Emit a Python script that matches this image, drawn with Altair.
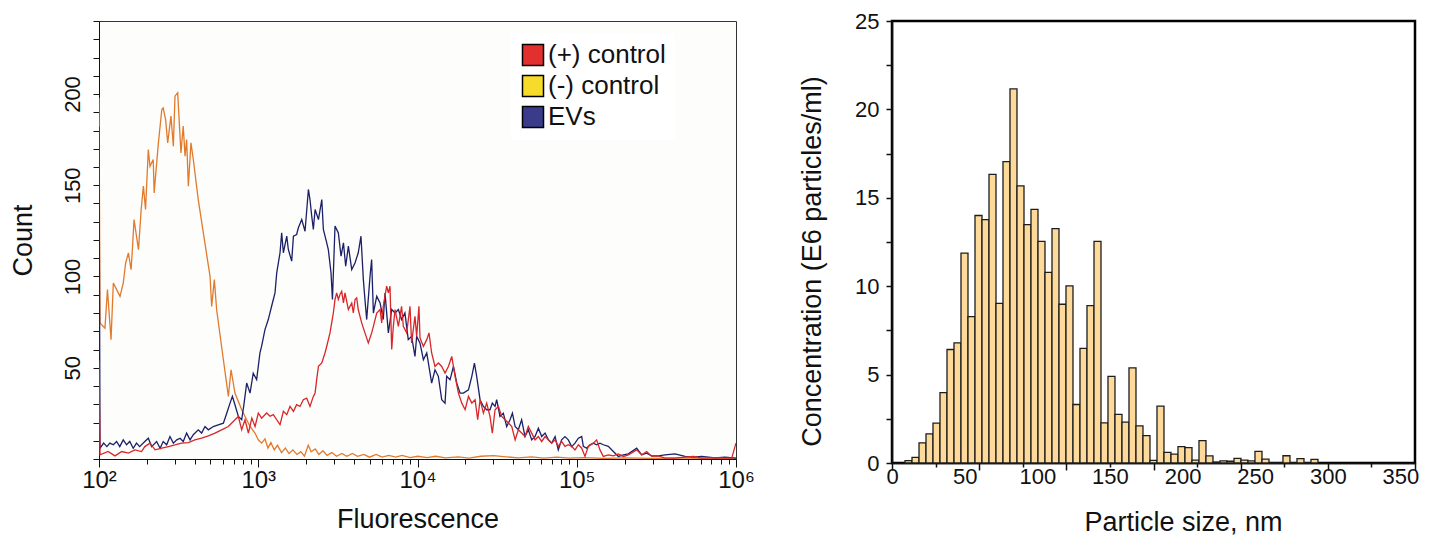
import altair as alt
import pandas as pd

FONT = "Liberation Sans"

# ---------------- Left panel: flow cytometry histograms ----------------
NEG_F = [100, 101.5, 109, 113, 119, 123, 129, 135.5, 142, 147, 153, 159, 162, 166, 177, 184, 190, 196,
         204, 209, 219, 222, 236, 248, 253, 262, 270, 283, 293, 300, 312, 327, 338, 347, 355, 364, 378,
         391, 420, 452, 498, 510, 530, 548, 604, 649, 675, 714, 787, 888, 954, 1000, 1050, 1102, 1150,
         1200, 1260, 1320, 1400, 1480, 1560, 1650, 1750, 1850, 1950, 2060, 2150, 2280, 2400, 2550, 2700,
         2900, 3100, 3350, 3600, 3900, 4200, 4600, 5000, 5500, 6000, 6600, 7300, 8000, 9000, 10000,
         11500, 13000, 15000, 18000, 21000, 25000, 30000, 36000, 43000, 52000, 62000, 75000, 90000,
         110000, 150000, 200000, 300000, 450000, 650000, 1000000]
NEG_C = [198, 74.5, 71.7, 92.8, 65.3, 96.4, 92.8, 89.1, 96.4, 107.4, 112.9, 103.7, 114.7, 131.2, 114.7,
         136.7, 149.5, 136.7, 169.6, 160.4, 164.1, 145.8, 173.2, 191.5, 192.4, 186, 173.2, 187.9, 171.4,
         198.8, 200.7, 167.7, 182.4, 165.9, 175.1, 149.5, 173.2, 164.1, 142.1, 123.9, 100.1, 83.6, 98.3,
         81.8, 54.4, 34.3, 48.9, 36.1, 27, 17.8, 14.2, 10.5, 8.7, 11, 6, 9, 5, 7.5, 3.5, 6, 3, 5, 2.5, 4,
         1.5, 7.5, 4, 5.5, 2.5, 4.5, 2, 3.5, 1.5, 3, 1.5, 3, 1.5, 2.5, 1, 2.5, 1, 2, 1, 2, 0.8, 1.5, 0.8,
         1.5, 0.6, 1.2, 0.5, 1.5, 1.8, 1.2, 0.6, 1.2, 0.5, 1, 0.5, 0.8, 0.3, 0.6, 0.3, 0.6, 0.3, 0.5]

POS_F = [100, 101.5, 114, 126, 139, 153, 168, 185, 194, 209, 225, 248, 273, 300, 330, 364, 400, 441,
         486, 535, 589, 649, 714, 750, 787, 826, 867, 911, 955, 1001, 1050, 1129, 1185, 1244, 1306, 1370,
         1438, 1510, 1583, 1663, 1742, 1829, 1919, 2014, 2113, 2218, 2275, 2327, 2388, 2506, 2625, 2692,
         2822, 2891, 2961, 3034, 3108, 3184, 3261, 3341, 3428, 3505, 3681, 3864, 3954, 4055, 4150, 4246,
         4461, 4677, 4912, 5154, 5284, 5546, 5821, 5957, 6095, 6405, 6561, 6720, 6887, 7051, 7228, 7586,
         7943, 8147, 8550, 8972, 9183, 9641, 9880, 10210, 10370, 10890, 11430, 11810, 12270, 12880,
         13520, 14190, 14890, 15630, 16410, 17220, 18070, 18970, 19910, 20890, 21930, 22990, 23880,
         24710, 25930, 27190, 28530, 29500, 30690, 32210, 33800, 35480, 37240, 39080, 41020, 42980,
         45080, 47320, 49660, 52120, 54700, 57410, 60260, 63240, 66370, 69660, 73110, 76560, 80350,
         84330, 88510, 92900, 97500, 102400, 107400, 112700, 118200, 127100, 133300, 139900, 146800,
         157800, 169800, 182500, 196200, 210900, 237900, 255800, 274900, 295600, 325400, 358300,
         414000, 478600, 539900, 609500, 738500, 853300, 940000, 986500, 1000000]
POS_C = [54, 2.3, 4.1, 1.7, 4.1, 3.2, 5, 4.1, 6.8, 8.7, 5, 5.9, 6.8, 7.7, 8.7, 9, 10.5, 11.4, 12.7,
         14.2, 16, 17.8, 21.5, 23.3, 16, 21.5, 14.2, 22.4, 17.8, 25.2, 22.4, 25.2, 23.4, 24.3, 21.5, 18.8,
         26.1, 24.3, 28.8, 26.1, 29.8, 28.8, 32.5, 33.4, 28.8, 34.3, 36.2, 43.5, 50.8, 52.6, 58.1, 61.8,
         69.1, 74.6, 80, 87.4, 91, 87.4, 90.1, 91.9, 85.5, 91, 81.9, 85.5, 80, 87.4, 88.3, 81.9, 74.6,
         69.1, 63.6, 69.1, 72.7, 80, 81.9, 74.6, 83.7, 94.7, 91, 94.7, 60, 72.7, 81.9, 72.7, 83.7, 72.7,
         69.1, 83.7, 63.6, 78.2, 67.2, 83.7, 66.3, 61.7, 65.4, 69.1, 58.1, 50.7, 52.6, 50.7, 47.1, 50.7,
         56.2, 45.3, 36.1, 30.6, 27, 34.3, 30.6, 32.5, 21.5, 32.5, 25.1, 30.6, 23.3, 14.2, 27, 28.8, 23.3,
         21.5, 19.7, 17.8, 10.5, 16, 14.2, 12.3, 17.8, 14.2, 10.5, 12.3, 9.6, 12.3, 10.5, 8.7, 10.5, 6.9,
         9.6, 6.9, 7.8, 6.9, 5, 7.8, 5.9, 1.4, 6.9, 8.7, 10.5, 5, 1.4, 2.3, 1.7, 2.8, 1.4, 2.3, 5, 2.3,
         4.1, 1.4, 1.7, 0.5, 0.5, 1, 1.4, 0.5, 0.8, 0.5, 0.5, 6.9, 8.7]

EV_F = [100, 101.5, 107, 112, 117, 123, 129, 135, 142, 149, 156, 164, 172, 180, 194, 204, 214, 230,
        242, 253, 266, 279, 293, 308, 323, 338, 355, 373, 391, 420, 441, 463, 486, 522, 561, 604, 634,
        665, 688, 714, 750, 787, 810, 846, 888, 930, 977, 1025, 1050, 1102, 1156, 1213, 1274, 1306, 1370,
        1403, 1438, 1510, 1545, 1622, 1663, 1742, 1786, 1875, 1967, 2065, 2113, 2167, 2218, 2275, 2388,
        2506, 2564, 2692, 2754, 2864, 2924, 3034, 3184, 3311, 3428, 3540, 3681, 3864, 4055, 4246, 4416,
        4571, 4677, 4797, 5035, 5152, 5284, 5546, 5821, 6095, 6252, 6561, 6887, 7228, 7586, 7943, 8337,
        8750, 9183, 9641, 9880, 10370, 10890, 11430, 11990, 12270, 12880, 13520, 14190, 14890, 15250,
        16010, 16810, 17640, 18510, 19430, 20890, 21930, 22780, 23530, 24710, 25930, 27190, 28530,
        29500, 30690, 31420, 32960, 34590, 36310, 38110, 39450, 41020, 42980, 45080, 47320, 49660,
        52120, 54700, 57410, 60260, 63240, 66370, 69660, 73110, 76560, 80350, 84330, 88510, 92900,
        97500, 102400, 107400, 110000, 115400, 121100, 127100, 133300, 139900, 146800, 157800, 169800,
        182500, 196200, 210900, 237900, 255800, 274900, 295600, 325400, 358300, 414000, 478600,
        539900, 609500, 738500, 853300, 1000000]
EV_C = [182, 5.9, 8.7, 6.8, 8.7, 7.8, 9.6, 6.8, 10.5, 7.8, 9.6, 5.9, 8.7, 6.8, 9.6, 11.4, 6.8, 9.6,
        5.9, 9.6, 7.8, 12.3, 8.7, 10.5, 11.4, 9.6, 14.2, 10.5, 13.3, 16, 14.2, 17.8, 16, 17.8, 18.7,
        19.6, 25.1, 30.6, 34.3, 29.7, 23.3, 21.5, 28.8, 41.6, 36.1, 47, 43.5, 58.1, 61.8, 70.9, 76.4,
        83.7, 91, 102, 113, 123.9, 113, 122.1, 114.8, 108.4, 122.1, 123, 126.7, 131.2, 124.8, 147.7,
        142.2, 133.1, 125.8, 136.7, 131.2, 142.2, 125.8, 118.4, 114.8, 102, 87.4, 127.6, 123.9, 111.1,
        118.4, 105.6, 116.6, 103.8, 107.5, 113, 122.1, 98.3, 87.4, 76.4, 100.2, 109.3, 80, 89.2, 85.5,
        76.4, 91, 69.1, 81.9, 80, 81.9, 76.4, 80, 65.4, 67.2, 56.2, 67.2, 63.5, 54.4, 58.1, 47.1, 41.6,
        48.9, 45.3, 32.5, 30.6, 45.3, 43.4, 50.7, 41.6, 36.1, 36.1, 37.9, 45.3, 52.6, 45.3, 32.5, 28.8,
        27, 27, 30.6, 28.8, 32.5, 23.3, 25.1, 17.8, 21.5, 25.1, 17.8, 16, 21.5, 12.3, 16, 10.5, 12.3,
        16.9, 12.3, 14.2, 10.5, 8.7, 12.3, 5, 10.5, 12.3, 10.5, 6.8, 8.7, 11.4, 12.3, 6.9, 5.9, 7.8,
        8.7, 7.8, 8.7, 7.8, 6.9, 4.1, 1.4, 2.3, 2.8, 5.9, 2.3, 3.2, 1.7, 1.7, 2.3, 2.8, 1.4, 1, 1.4,
        0.6, 1, 0.5]

SERIES = ["(+) control", "(-) control", "EVs"]
LEGEND_FILLS = ["#E2302E", "#F6DB2A", "#3B3B8C"]
LINE_COLORS = {"(-) control": "#E27A2C", "EVs": "#1C2068", "(+) control": "#D8262A"}
DRAW_ORDER = ["(-) control", "EVs", "(+) control"]

DECADES = [100, 1000, 10000, 100000, 1000000]
DECADE_LABELS = ["10²", "10³", "10⁴", "10⁵", "10⁶"]

# ---------------- Right panel: particle size histogram ----------------
BIN_START = [8.95, 13.77, 18.59, 23.40, 28.22, 33.04, 37.86, 42.68, 47.49, 52.31, 57.13, 61.95,
             66.77, 71.58, 76.40, 81.22, 86.04, 90.86, 95.67, 100.49, 105.31, 110.13, 114.95, 119.76,
             124.58, 129.40, 134.22, 139.04, 143.85, 148.67, 153.49, 158.31, 163.13, 167.94, 172.76,
             177.58, 182.40, 187.22, 192.03, 196.85, 201.67, 206.49, 211.31, 216.12, 220.94, 225.76,
             230.58, 235.40, 240.21, 245.03, 249.85, 254.67, 259.49, 264.30, 269.12, 273.94, 278.76,
             283.58, 288.39]
CONC = [0.13, 0.32, 1.14, 1.65, 2.25, 3.98, 6.42, 6.8, 11.87, 8.28, 14.0, 13.77, 16.33, 9.03, 17.05,
        21.16, 15.68, 13.48, 14.34, 12.54, 10.78, 13.26, 8.98, 10.02, 3.31, 6.48, 8.9, 12.54, 2.27, 4.9,
        2.75, 2.31, 5.38, 2.1, 1.55, 0.15, 3.22, 0.6, 0.5, 0.93, 0.87, 0.16, 1.26, 0.4, 0.05, 0.12, 0.1,
        0.26, 0.16, 0.12, 0.66, 0.22, 0, 0, 0.41, 0, 0.25, 0, 0.21]
SIZE_LABELS = [0, 50, 100, 150, 200, 250, 300, 350]
BIN_WIDTH = 4.82

# ---------------- build left panel ----------------
rows = []
for name, fs, cs in [("(+) control", POS_F, POS_C), ("(-) control", NEG_F, NEG_C), ("EVs", EV_F, EV_C)]:
    for f, c in zip(fs, cs):
        rows.append({"series": name, "F": f, "count": c})
flow = pd.DataFrame(rows)

x_tick_vals = [m * d for d in DECADES[:-1] for m in range(1, 10)] + [DECADES[-1]]
label_expr = " : ".join(f"datum.value == {d} ? '{l}'" for d, l in zip(DECADES, DECADE_LABELS)) + " : ''"
decade_test = "indexof([" + ",".join(str(d) for d in DECADES) + "], datum.value) >= 0"

xf = alt.X("F:Q", title="Fluorescence",
           scale=alt.Scale(type="log", domain=[100, 1000000], nice=False),
           axis=alt.Axis(values=x_tick_vals, labelExpr=label_expr, labelFlush=False, labelOverlap=False,
                         tickSize={"condition": {"test": decade_test, "value": 8}, "value": 5},
                         labelPadding=1, labelFontSize=24, titlePadding=14, titleFontSize=27))
yc = alt.Y("count:Q", title="Count",
           scale=alt.Scale(domain=[0, 240], nice=False),
           axis=alt.Axis(values=list(range(0, 241, 10)),
                         labelExpr="datum.value % 50 === 0 && datum.value > 0 ? datum.label : ''",
                         labelAngle=270, tickSize=6, labelPadding=9, labelFontSize=22,
                         titlePadding=24, titleFontSize=27))

line_layers = [
    alt.Chart(flow).transform_filter(alt.datum.series == s)
    .mark_line(color=LINE_COLORS[s], strokeWidth=1.3, clip=True)
    .encode(x=xf, y=yc)
    for s in DRAW_ORDER
]
legend_layer = alt.Chart(flow).mark_square(opacity=0, filled=True).encode(
    x=xf, y=yc,
    fill=alt.Fill("series:N", scale=alt.Scale(domain=SERIES, range=LEGEND_FILLS),
                  legend=alt.Legend(title=None, orient="none", legendX=412, legendY=12,
                                    symbolType="square", symbolSize=441, symbolStrokeColor="black",
                                    symbolStrokeWidth=1.5, symbolOpacity=1, labelFontSize=26,
                                    labelFont=FONT, labelColor="#111", fillColor="white",
                                    padding=9, rowPadding=3, labelOffset=2, labelLimit=300)),
    stroke=alt.value("black"), strokeWidth=alt.value(1.5))

left = alt.layer(*line_layers, legend_layer).properties(
    width=637, height=438,
    view=alt.ViewBackground(fill="#FDFDFB", stroke="#333333", strokeWidth=1))

# ---------------- build right panel ----------------
bins = pd.DataFrame({"start": BIN_START, "conc": CONC})
bins["end"] = bins["start"] + BIN_WIDTH
xs = alt.Scale(domain=[0, 360], nice=False)

bars = alt.Chart(bins).mark_bar(fill="#FDD99A", stroke="#1E1E1E", strokeWidth=1.3).encode(
    x=alt.X("start:Q", scale=xs,
            axis=alt.Axis(orient="bottom", values=list(range(0, 361, 30)), labels=False, title=None,
                          tickSize={"condition": {"test": "datum.value % 60 === 0", "value": 7}, "value": 4},
                          domainWidth=1.5, tickWidth=1.5)),
    x2="end:Q",
    y=alt.Y("conc:Q", title="Concentration (E6 particles/ml)",
            scale=alt.Scale(domain=[0, 25], nice=False),
            axis=alt.Axis(values=[i * 2.5 for i in range(11)],
                          labelExpr="datum.value % 5 === 0 ? datum.label : ''",
                          tickSize=6, tickWidth=1.5, domainWidth=1.5, labelPadding=7,
                          labelFontSize=22, titlePadding=28, titleFontSize=27, titleY=240)),
    y2=alt.datum(0))
size_axis = alt.Chart(pd.DataFrame({"size": SIZE_LABELS})).mark_tick(opacity=0).encode(
    x=alt.X("size:Q", scale=xs,
            axis=alt.Axis(orient="bottom", values=SIZE_LABELS, ticks=False, tickSize=0, domain=False,
                          labelFlush=False, labelOverlap=False, labelPadding=3, labelFontSize=22,
                          title="Particle size, nm", titlePadding=22, titleFontSize=27, titleX=291)))

right = alt.layer(bars, size_axis).resolve_axis(x="independent").properties(
    width=523, height=442,
    view=alt.ViewBackground(fill="white", stroke="black", strokeWidth=2.5))

chart = alt.hconcat(left, right, spacing=42).properties(
    padding={"left": 0, "top": 0, "right": 0, "bottom": 0}
).configure(font=FONT).configure_axis(
    labelFont=FONT, titleFont=FONT, labelColor="#111", titleColor="#111",
    domainColor="#111", tickColor="#111", titleFontWeight="normal", grid=False
)

chart.save("out.html", embed_options={"renderer": "svg", "actions": False})
